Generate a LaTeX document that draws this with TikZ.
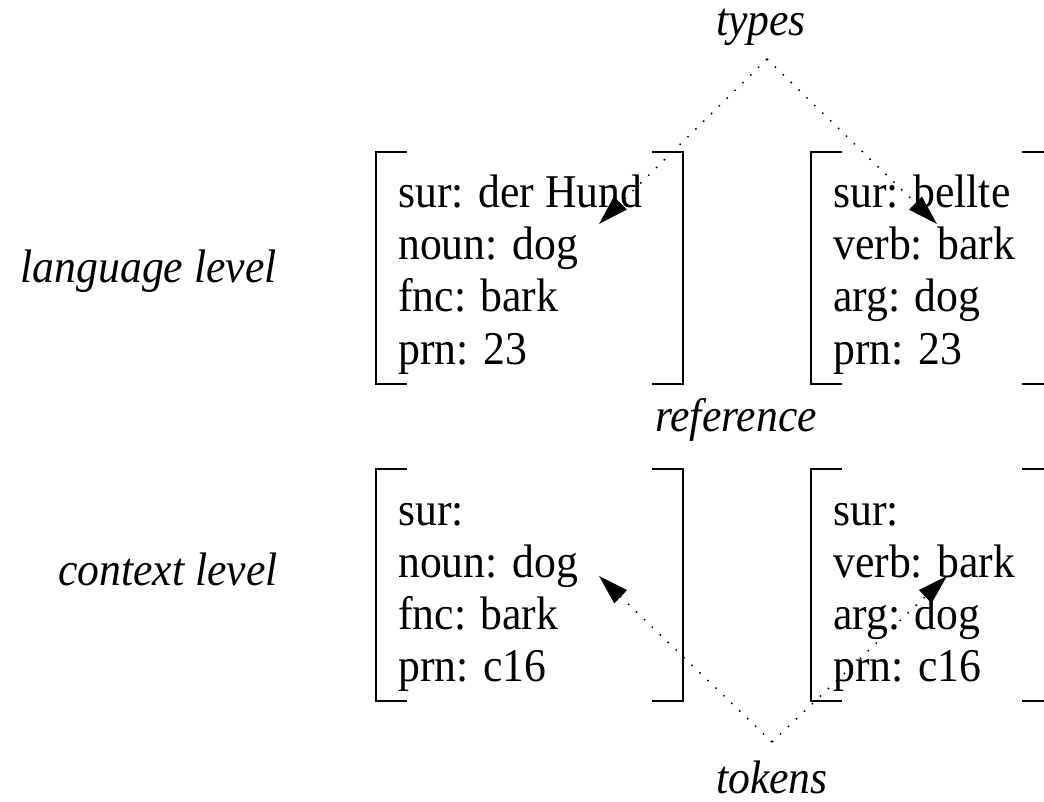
\documentclass[tikz,border=0pt]{standalone}
\usepackage{fontspec}
\setmainfont{Liberation Serif}[FakeStretch=0.93]
\usetikzlibrary{arrows.meta}
\newcommand\fsbrackets[1]{%
  \draw[brk] ([xshift=31pt]#1.north west) -- (#1.north west) -- (#1.south west) -- ([xshift=31pt]#1.south west);
  \draw[brk] ([xshift=-31pt]#1.north east) -- (#1.north east) -- (#1.south east) -- ([xshift=-31pt]#1.south east);
}
\tikzset{
  txt/.style={inner sep=0pt, font=\fontsize{47}{52}\selectfont},
  entry/.style={txt, anchor=base west},
  lbl/.style={txt, font=\fontsize{47}{52}\selectfont\itshape},
  fsbox/.style={draw=none, inner sep=0pt, minimum width=#1, minimum height=232pt},
  brk/.style={line width=1.6pt, line cap=butt, line join=miter},
  ptr/.style={line width=1.5pt, dash pattern=on 1.5pt off 9.5pt,
              -{Triangle[length=30pt,width=18pt,sep=0pt]}},
}
\begin{document}
\begin{tikzpicture}[x=1pt,y=-1pt]
\useasboundingbox (0,0) rectangle (1044,802);
\clip (0,0) rectangle (1044,802);

% boxes (feature structures)
\node[fsbox=307pt] (box1) at (529.5,268) {};
\node[fsbox=242pt] (box2) at (932,268) {};
\node[fsbox=307pt] (box3) at (529.5,585) {};
\node[fsbox=242pt] (box4) at (932,585) {};
\fsbrackets{box1}
\fsbrackets{box2}
\fsbrackets{box3}
\fsbrackets{box4}

% contents
\node[entry] (a1) at (398,208) {sur: der Hund};
\node[entry] (a2) at (398,260) {noun: dog};
\node[entry] (a3) at (398,312) {fnc: bark};
\node[entry] (a4) at (398,364) {prn: 23};

\node[entry] (b1) at (833,208) {sur: bellte};
\node[entry] (b2) at (833,260) {verb: bark};
\node[entry] (b3) at (833,312) {arg: dog};
\node[entry] (b4) at (833,364) {prn: 23};

\node[entry] (c1) at (398,525) {sur:};
\node[entry] (c2) at (398,577) {noun: dog};
\node[entry] (c3) at (398,629) {fnc: bark};
\node[entry] (c4) at (398,681) {prn: c16};

\node[entry] (d1) at (833,525) {sur:};
\node[entry] (d2) at (833,577) {verb: bark};
\node[entry] (d3) at (833,629) {arg: dog};
\node[entry] (d4) at (833,681) {prn: c16};

% labels
\node[lbl, anchor=base east] (lang) at (277,283) {language level};
\node[lbl, anchor=base east] (ctx) at (278,585) {context level};
\node[lbl, anchor=base] (types) at (761,36) {types};
\node[lbl, anchor=base] (ref) at (736,431) {reference};
\node[lbl, anchor=base] (tokens) at (772,793) {tokens};

% connectors
\coordinate (typ) at (767,59);
\coordinate (tok) at (772,742);
\coordinate (t1) at (599,224);
\coordinate (t2) at (937,224);
\coordinate (t3) at (599,576);
\coordinate (t4) at (947,576);
\draw[ptr] (typ) -- (t1);
\draw[ptr] (typ) -- (t2);
\draw[ptr] (tok) -- (t3);
\draw[ptr] (tok) -- (t4);
\end{tikzpicture}
\end{document}
